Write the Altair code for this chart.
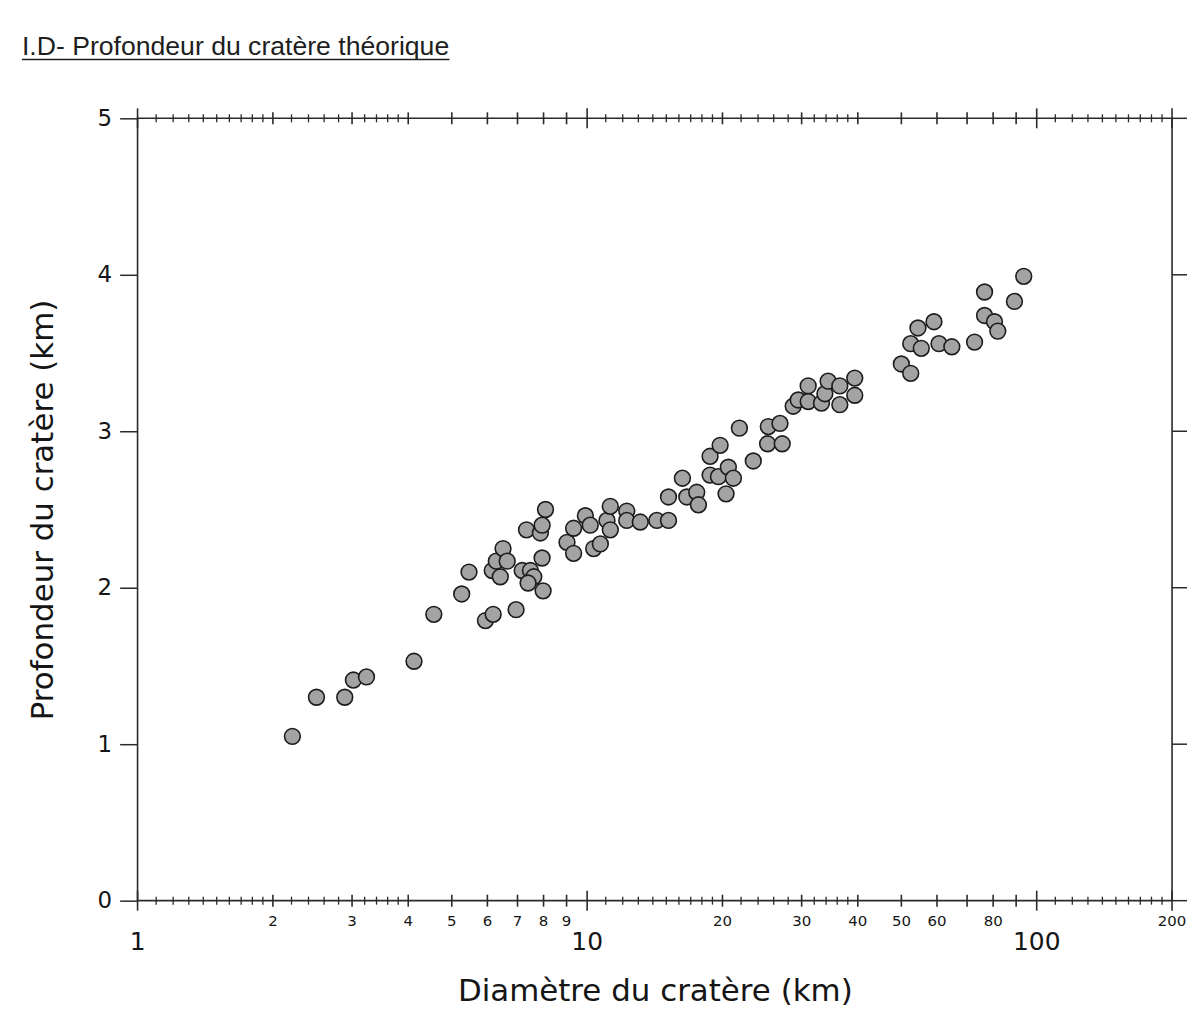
import altair as alt
import pandas as pd

# ---- data ----
diam = [2.21, 2.50, 2.89, 3.02, 3.23, 4.12, 4.56, 5.26, 5.46, 5.94,
        6.18, 6.15, 6.28, 6.41, 6.50, 6.64, 6.95, 7.17, 7.33, 7.48,
        7.61, 7.39, 7.87, 7.94, 7.98, 8.08, 7.94,
        9.02, 9.33, 9.33, 9.91, 10.16, 10.34, 10.70, 11.07, 11.26, 11.26,
        12.25, 12.25, 13.13, 14.29, 15.17, 15.17, 16.29, 16.66, 17.53, 17.68,
        18.77, 19.76, 18.77, 19.59, 20.61, 21.15, 20.37, 21.81, 23.42, 25.29,
        26.85, 25.20, 27.16,
        28.73, 29.48, 31.02, 31.02, 33.21, 33.79, 34.36, 36.48, 36.48, 39.38, 39.38,
        49.99, 52.45, 52.45, 54.43, 55.37, 59.08, 60.61, 64.75, 72.74, 76.55,
        76.55, 80.55, 81.93, 89.22, 93.57]
depth = [1.05, 1.30, 1.30, 1.41, 1.43, 1.53, 1.83, 1.96, 2.10, 1.79,
         1.83, 2.11, 2.17, 2.07, 2.25, 2.17, 1.86, 2.11, 2.37, 2.11,
         2.07, 2.03, 2.35, 2.19, 1.98, 2.50, 2.40,
         2.29, 2.38, 2.22, 2.46, 2.40, 2.25, 2.28, 2.43, 2.52, 2.37,
         2.49, 2.43, 2.42, 2.43, 2.43, 2.58, 2.70, 2.58, 2.61, 2.53,
         2.84, 2.91, 2.72, 2.71, 2.77, 2.70, 2.60, 3.02, 2.81, 3.03,
         3.05, 2.92, 2.92,
         3.16, 3.20, 3.29, 3.19, 3.18, 3.24, 3.32, 3.29, 3.17, 3.34, 3.23,
         3.43, 3.37, 3.56, 3.66, 3.53, 3.70, 3.56, 3.54, 3.57, 3.89,
         3.74, 3.70, 3.64, 3.83, 3.99]

major_ticks = [1, 10, 100, 200]
medium_ticks = [2, 3, 4, 5, 6, 7, 8, 9, 20, 30, 40, 50, 60, 70, 80, 90]
minor_ticks = [1.1, 1.2, 1.3, 1.4, 1.5, 1.6, 1.7, 1.8, 1.9,
               2.2, 2.4, 2.6, 2.8, 3.2, 3.4, 3.6, 3.8,
               11, 12, 13, 14, 15, 16, 17, 18, 19,
               22, 24, 26, 28, 32, 34, 36, 38,
               110, 120, 130, 140, 150, 160, 170, 180, 190]
small_label_values = [2, 3, 4, 5, 6, 7, 8, 9, 20, 30, 40, 50, 60, 80, 200]
small_label_texts = ["2", "3", "4", "5", "6", "7", "8", "9",
                     "20", "30", "40", "50", "60", "80", "200"]
big_label_values = [1, 10, 100]
big_label_texts = ["1", "10", "100"]
y_ticks = [0, 1, 2, 3, 4, 5]

page_title = "I.D- Profondeur du cratère théorique"
x_title = "Diamètre du cratère (km)"
y_title = "Profondeur du cratère (km)"

# ---- layout / style ----
W, H = 1038, 785
FONT = "DejaVu Sans"
INK = "#2a2a2a"

xs = alt.Scale(type="log", domain=[1, 200], nice=False)
ys = alt.Scale(domain=[0, 5], nice=False, zero=False)

xaxis = alt.Axis(
    title=x_title, labels=False, ticks=False, domain=False, grid=False,
    titleFont=FONT, titleFontSize=31, titleFontWeight="normal",
    titleColor="#151515", titleBaseline="alphabetic", titleY=100)
yaxis = alt.Axis(
    title=y_title, values=y_ticks, format="d", grid=False, domain=False,
    tickSize=18, tickWidth=1.5, tickColor=INK,
    labelFont=FONT, labelFontSize=23, labelColor="#151515", labelPadding=8,
    titleFont=FONT, titleFontSize=31, titleFontWeight="normal",
    titleColor="#151515", titleBaseline="middle", titleX=-94)

pts = pd.DataFrame({"D": diam, "P": depth})
points = alt.Chart(pts).mark_circle(
    size=250, color="#a3a3a3", opacity=1, stroke="#1c1c1c", strokeWidth=1.6
).encode(
    x=alt.X("D:Q", scale=xs, axis=xaxis, title=x_title),
    y=alt.Y("P:Q", scale=ys, axis=yaxis, title=y_title),
)


def x_tick_layers(vals, half, width):
    df = pd.DataFrame({"t": vals})
    base = alt.Chart(df).mark_rule(color=INK, strokeWidth=width)
    xe = alt.X("t:Q", scale=xs, axis=xaxis, title=x_title)
    bottom = base.encode(x=xe, y=alt.value(H - half), y2=alt.value(H + half))
    top = base.encode(x=xe, y=alt.value(-half), y2=alt.value(half))
    return [bottom, top]


tick_layers = (x_tick_layers(major_ticks, 10, 1.6)
               + x_tick_layers(medium_ticks, 6, 1.6)
               + x_tick_layers(minor_ticks, 4, 1.3))

right_ticks = alt.Chart(pd.DataFrame({"v": y_ticks})).mark_rule(
    color=INK, strokeWidth=1.5
).encode(
    y=alt.Y("v:Q", scale=ys, axis=yaxis, title=y_title),
    x=alt.value(W), x2=alt.value(W + 18),
)

small_labels = alt.Chart(pd.DataFrame({"t": small_label_values, "lab": small_label_texts})).mark_text(
    font=FONT, fontSize=15, align="center", baseline="middle", color="#151515"
).encode(
    x=alt.X("t:Q", scale=xs, axis=xaxis, title=x_title), y=alt.value(H + 20), text="lab:N"
)
big_labels = alt.Chart(pd.DataFrame({"t": big_label_values, "lab": big_label_texts})).mark_text(
    font=FONT, fontSize=25, align="center", baseline="middle", color="#151515"
).encode(
    x=alt.X("t:Q", scale=xs, axis=xaxis, title=x_title), y=alt.value(H + 42), text="lab:N"
)

title_text = alt.Chart(pd.DataFrame({"txt": [page_title]})).mark_text(
    font="Liberation Sans", fontSize=26.7, align="left", baseline="alphabetic", color="#1e1e1e"
).encode(x=alt.value(-116), y=alt.value(-64), text="txt:N")
title_line = alt.Chart(pd.DataFrame({"a": [0]})).mark_rule(
    color="#1e1e1e", strokeWidth=1.5
).encode(x=alt.value(-116), x2=alt.value(313), y=alt.value(-59))

chart = alt.layer(
    points, *tick_layers, right_ticks, small_labels, big_labels, title_text, title_line
).properties(
    width=W, height=H,
    padding={"left": 130, "top": 109, "right": 15, "bottom": 105},
    autosize=alt.AutoSizeParams(type="none"),
).configure_view(stroke=INK, strokeWidth=1.6)

chart.save("out.html", embed_options={"renderer": "svg", "actions": False})
